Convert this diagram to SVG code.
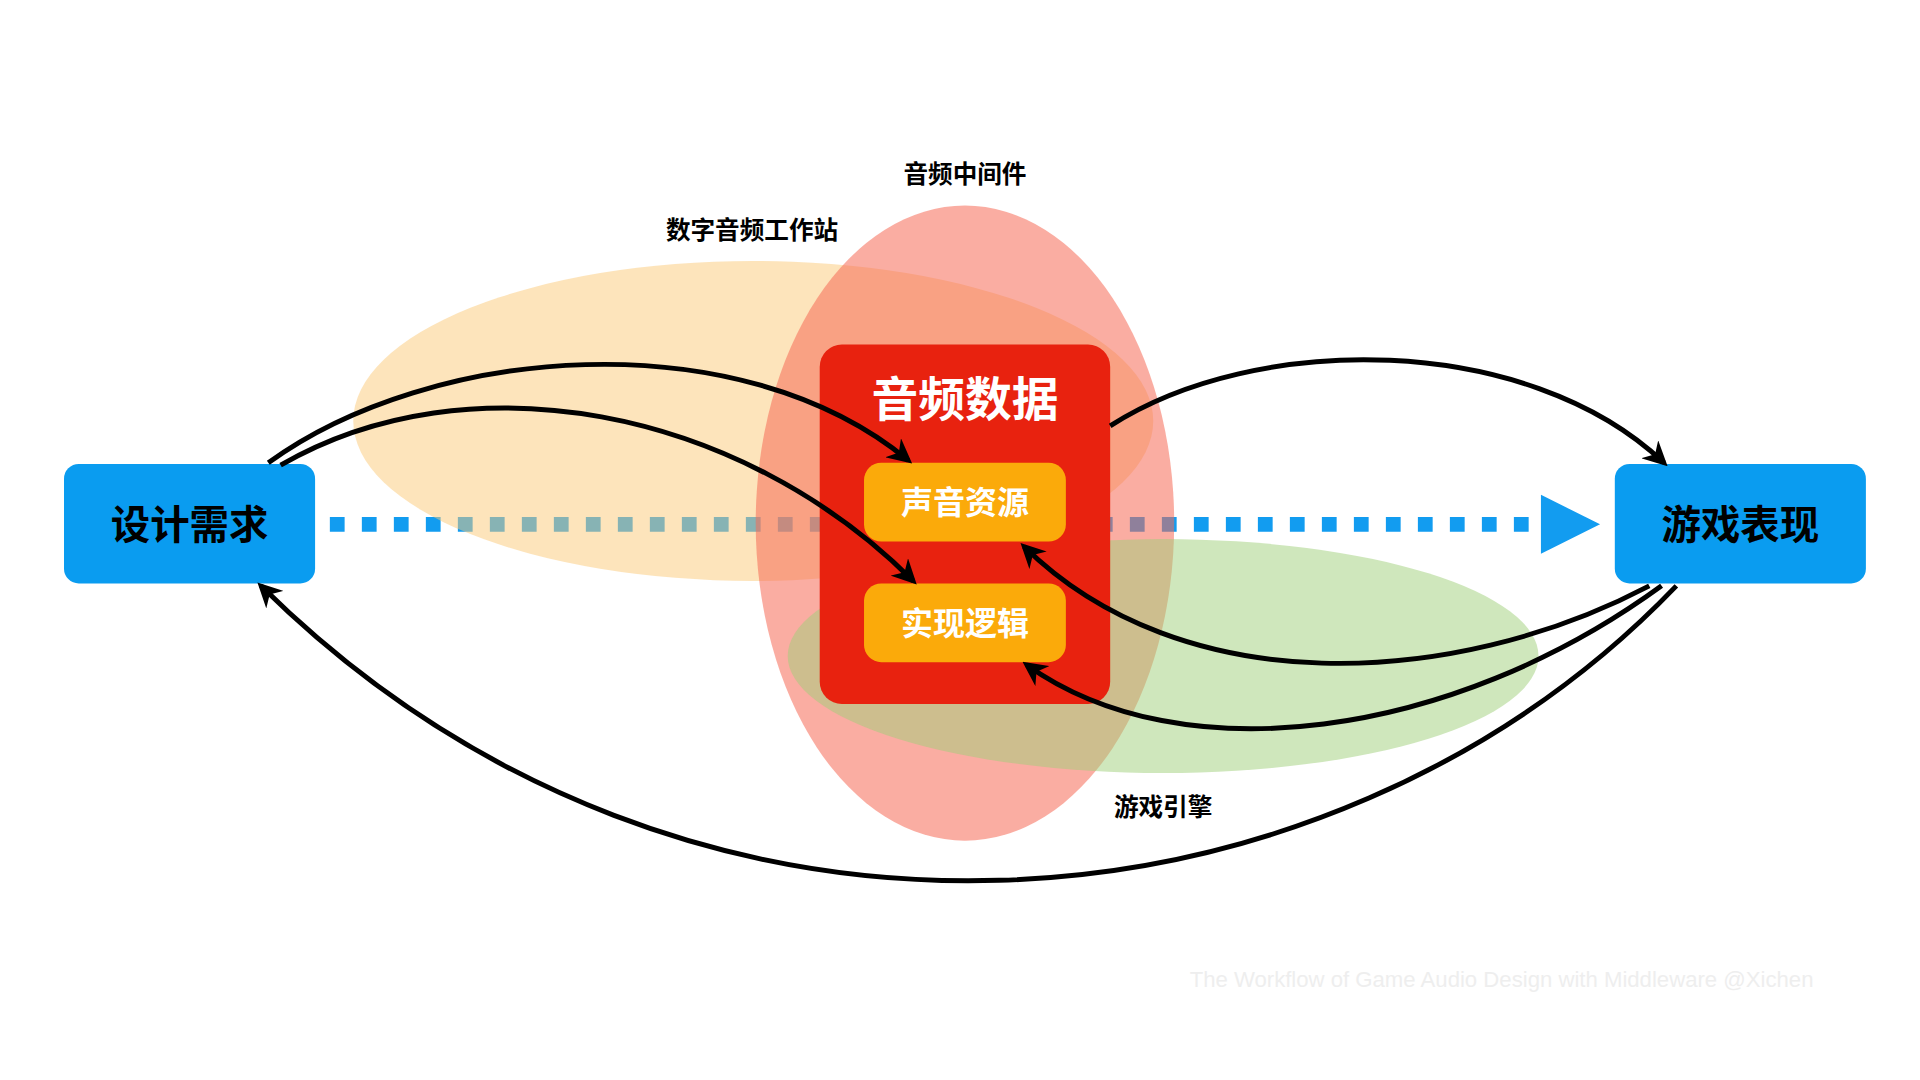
<svg xmlns="http://www.w3.org/2000/svg" width="1920" height="1080" viewBox="0 0 1920 1080">
<defs>
<style>
.lbl{font-family:"Noto Sans CJK SC","Noto Sans",sans-serif;font-weight:bold;text-anchor:middle}
.cv{fill:none;stroke:#000;stroke-width:4;marker-end:url(#ah)}
</style>
<marker id="ah" viewBox="0 0 10 10" refX="8" refY="5" markerWidth="5" markerHeight="5" orient="auto" markerUnits="strokeWidth"><path d="M0,0 L10,5 L0,10 L3,5 z" fill="#000"/></marker>
</defs>
<rect width="1920" height="1080" fill="#fff"/>
<g transform="scale(1.2308)">
<g id="dotted">
<line x1="268" y1="426" x2="1250" y2="426" stroke="#129cf0" stroke-width="12" stroke-dasharray="12,14"/>
<polygon points="1252,402 1300,426 1252,450" fill="#129cf0"/>
</g>
<g id="daw"><ellipse cx="612" cy="342" rx="325" ry="130" fill="#fbc978" opacity="0.5"/><text class="lbl" x="611" y="194" font-size="20">数字音频工作站</text></g>
<g id="middleware"><ellipse cx="784" cy="425" rx="170" ry="258" fill="#f66a55" opacity="0.55"/><text class="lbl" x="784" y="149" font-size="20">音频中间件</text></g>
<g id="engine"><ellipse cx="945" cy="533" rx="305" ry="95" fill="#9fd07a" opacity="0.5"/><text class="lbl" x="945" y="663" font-size="20">游戏引擎</text></g>
<g id="audiodata"><rect x="666" y="280" width="236" height="292" rx="18" fill="#e8220f"/><text class="lbl" x="784" y="338" font-size="38" fill="#fff">音频数据</text></g>
<g id="sound"><rect x="702" y="376" width="164" height="64" rx="14" fill="#fbaa0a"/><text class="lbl" x="784" y="418" font-size="26" fill="#fff">声音资源</text></g>
<g id="logic"><rect x="702" y="474" width="164" height="64" rx="14" fill="#fbaa0a"/><text class="lbl" x="784" y="516" font-size="26" fill="#fff">实现逻辑</text></g>
<g id="design"><rect x="52" y="377" width="204" height="97" rx="12" fill="#0a9cf0"/><text class="lbl" x="154" y="438" font-size="32" fill="#000">设计需求</text></g>
<g id="perform"><rect x="1312" y="377" width="204" height="97" rx="12" fill="#0a9cf0"/><text class="lbl" x="1414" y="438" font-size="32" fill="#000">游戏表现</text></g>
<g id="connectors">
<path class="cv" d="M218,376 C350,280 600,260 738,374"/>
<path class="cv" d="M228,378 C380,290 600,330 742,472"/>
<path class="cv" d="M902,346 C1020,270 1240,270 1352,376"/>
<path class="cv" d="M1340,476 C1180,560 960,570 832,444"/>
<path class="cv" d="M1350,476 C1180,600 960,630 834,540"/>
<path class="cv" d="M1362,476 C1080,770 560,820 212,476"/>
</g>
<text x="1220" y="802" font-family="Liberation Sans,sans-serif" font-size="18" fill="#eeeeee" text-anchor="middle">The Workflow of Game Audio Design with Middleware @Xichen</text>
</g>
</svg>
